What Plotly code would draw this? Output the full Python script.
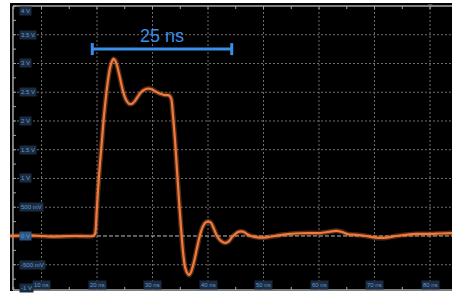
import plotly.graph_objects as go

# ---- data (time in ns, voltage in V) ----
time_ns = [4.3, 8.0, 12.0, 16.0, 19.2, 19.64, 19.91, 20.18, 20.54, 20.90, 21.26, 21.62, 21.98, 22.34,
           22.70, 22.97, 23.24, 23.60, 24.14, 24.68, 25.23, 25.77, 26.31, 26.85, 27.39, 27.93,
           28.47, 29.01, 29.55, 30.09, 30.81, 31.53, 32.25, 32.79, 33.15, 33.42, 33.69, 34.05,
           34.41, 34.77, 35.14, 35.50, 35.86, 36.22, 36.58, 36.94, 37.48, 38.02, 38.56, 39.10,
           39.64, 40.09, 40.54, 41.08, 41.62, 42.16, 42.70, 43.24, 43.78, 44.32, 44.86, 45.41,
           45.95, 46.49, 47.03, 47.75, 48.65, 49.73, 50.81, 52.07, 53.33, 54.77, 56.58, 58.38,
           60.18, 61.62, 63.06, 64.14, 65.23, 66.67, 68.47, 70.27, 72.07, 73.87, 75.68, 77.48,
           80.0, 81.8, 83.96]
voltage_v = [0.0, 0.01, -0.01, 0.0, 0.0, 0.035, 0.37, 0.80, 1.27, 1.67, 2.10, 2.43, 2.71, 2.92,
             3.04, 3.08, 3.06, 2.97, 2.75, 2.52, 2.37, 2.30, 2.30, 2.35, 2.43, 2.50,
             2.54, 2.56, 2.56, 2.54, 2.50, 2.47, 2.45, 2.45, 2.43, 2.37, 2.10, 1.67,
             1.15, 0.63, 0.14, -0.28, -0.54, -0.64, -0.68, -0.63, -0.45, -0.21, 0.02, 0.17,
             0.24, 0.25, 0.23, 0.12, 0.0, -0.07, -0.11, -0.12, -0.09, -0.02, 0.03, 0.07,
             0.08, 0.07, 0.03, 0.0, -0.02, -0.03, -0.02, 0.0, 0.02, 0.035, 0.047, 0.05,
             0.05, 0.07, 0.09, 0.07, 0.03, 0.02, 0.0, -0.03, -0.03, 0.0, 0.02, 0.035,
             0.035, 0.043, 0.05]

x_tick_vals = [10, 20, 30, 40, 50, 60, 70, 80]
x_tick_labels = ["10 ns", "20 ns", "30 ns", "40 ns", "50 ns", "60 ns", "70 ns", "80 ns"]
y_tick_vals = [4.0, 3.5, 3.0, 2.5, 2.0, 1.5, 1.0, 0.5, 0.0, -0.5, -1.0]
y_tick_labels = ["4 V", "3.5 V", "3 V", "2.5 V", "2 V", "1.5 V", "1 V", "500 mV", "0 V", "-500 mV", "-1 V"]

span_start_ns = 19.15
span_end_ns = 44.27
span_level_v = 3.25
span_label = "25 ns"

X_RANGE = [4.324, 83.96]
Y_RANGE = [-0.957, 4.052]
LEFT_EDGE = 4.86
TOP_EDGE = 4.0
BOTTOM_EDGE = -0.939

fig = go.Figure()

shapes = []
# dotted grid
for t in x_tick_vals:
    shapes.append(dict(type="line", x0=t, x1=t, y0=BOTTOM_EDGE, y1=TOP_EDGE,
                       line=dict(color="#6f6f6f", width=1, dash="2px,2px"), layer="below"))
for v in y_tick_vals:
    if BOTTOM_EDGE < v < TOP_EDGE:
        if v == 0.0:
            shapes.append(dict(type="line", x0=LEFT_EDGE, x1=X_RANGE[1], y0=v, y1=v,
                               line=dict(color="#bdbdbd", width=1, dash="4px,2px"), layer="below"))
        else:
            shapes.append(dict(type="line", x0=LEFT_EDGE, x1=X_RANGE[1], y0=v, y1=v,
                               line=dict(color="#6f6f6f", width=1, dash="2px,2px"), layer="below"))
# borders
border = dict(color="#a8a8a8", width=1.5)
shapes.append(dict(type="line", x0=LEFT_EDGE, x1=LEFT_EDGE, y0=BOTTOM_EDGE, y1=TOP_EDGE, line=border, layer="below"))
shapes.append(dict(type="line", x0=LEFT_EDGE, x1=X_RANGE[1], y0=TOP_EDGE, y1=TOP_EDGE, line=border, layer="below"))
shapes.append(dict(type="line", x0=LEFT_EDGE, x1=X_RANGE[1], y0=BOTTOM_EDGE, y1=BOTTOM_EDGE, line=border, layer="below"))
# border ticks
px_ns = 5.55
px_v = 57.5
k = 0
while True:
    v = -1.0 + 0.25 * k
    k += 1
    if v > TOP_EDGE:
        break
    if v <= BOTTOM_EDGE:
        continue
    shapes.append(dict(type="line", x0=LEFT_EDGE, x1=LEFT_EDGE + 3 / px_ns, y0=v, y1=v,
                       line=dict(color="#a8a8a8", width=1), layer="below"))
k = 0
while True:
    t = 5.0 + 5.0 * k
    k += 1
    if t > X_RANGE[1]:
        break
    shapes.append(dict(type="line", x0=t, x1=t, y0=BOTTOM_EDGE, y1=BOTTOM_EDGE + 3 / px_v,
                       line=dict(color="#a8a8a8", width=1), layer="below"))
    shapes.append(dict(type="line", x0=t, x1=t, y0=TOP_EDGE, y1=TOP_EDGE - 3 / px_v,
                       line=dict(color="#a8a8a8", width=1), layer="below"))

# span bracket
blue = "#3a8ee6"
shapes.append(dict(type="line", x0=span_start_ns, x1=span_end_ns, y0=span_level_v, y1=span_level_v,
                   line=dict(color=blue, width=3)))
for t in (span_start_ns, span_end_ns):
    shapes.append(dict(type="line", x0=t, x1=t, y0=span_level_v - 6 / px_v, y1=span_level_v + 6 / px_v,
                       line=dict(color=blue, width=3)))

# trace glow + main
fig.add_trace(go.Scatter(x=time_ns, y=voltage_v, mode="lines", line=dict(color="rgba(232,118,58,0.35)", width=5, shape="spline", smoothing=0.6),
                         hoverinfo="skip", showlegend=False))
fig.add_trace(go.Scatter(x=time_ns, y=voltage_v, mode="lines", line=dict(color="#ef7a3c", width=2.2, shape="spline", smoothing=0.6),
                         showlegend=False))

annotations = []
label_font = dict(family="Liberation Sans, Arial, sans-serif", size=6, color="#5f9bd6")
for v, lab in zip(y_tick_vals, y_tick_labels):
    yv = min(max(v, -0.9), 3.91)
    bg = "#2b5584" if v == 0.0 else "#1b2c40"
    annotations.append(dict(x=X_RANGE[0] + 9 / px_ns, y=yv, text=lab, showarrow=False, xanchor="left",
                            yanchor="middle", font=label_font, bgcolor=bg, borderpad=1))
for t, lab in zip(x_tick_vals, x_tick_labels):
    annotations.append(dict(x=t, y=-0.852, text=lab, showarrow=False, xanchor="center", yanchor="middle",
                            font=label_font, bgcolor="#1b2c40", borderpad=1))
annotations.append(dict(x=(span_start_ns + span_end_ns) / 2, y=span_level_v + 13 / px_v, text=span_label,
                        showarrow=False, xanchor="center", yanchor="middle",
                        font=dict(family="Liberation Sans, Arial, sans-serif", size=18, color=blue)))
annotations.append(dict(x=80, y=TOP_EDGE, text="▿", showarrow=False, xanchor="center", yanchor="middle",
                        font=dict(size=9, color="#8a8a8a")))

fig.update_layout(
    width=452, height=296,
    margin=dict(l=10, r=0, t=3, b=5),
    paper_bgcolor="white", plot_bgcolor="black",
    xaxis=dict(range=X_RANGE, showgrid=False, zeroline=False, showticklabels=False, ticks="", fixedrange=True),
    yaxis=dict(range=Y_RANGE, showgrid=False, zeroline=False, showticklabels=False, ticks="", fixedrange=True),
    shapes=shapes, annotations=annotations, showlegend=False,
)

fig.write_html("out.html", config={"displayModeBar": False},
               post_script="document.body.style.margin='0';document.body.style.overflow='hidden';")
